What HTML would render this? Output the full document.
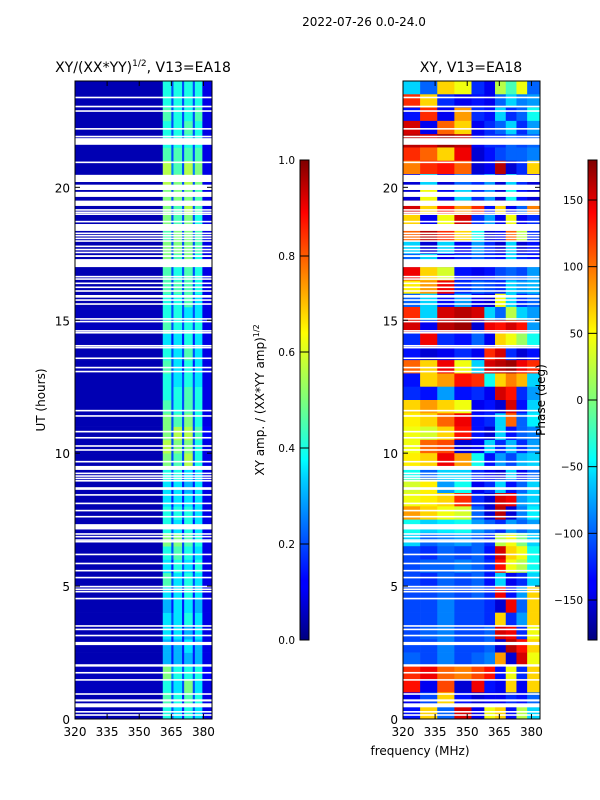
<!DOCTYPE html>
<html><head><meta charset="utf-8">
<style>
html,body{margin:0;padding:0;background:#fff;}
svg{display:block;font-family:"DejaVu Sans","Liberation Sans",sans-serif;}
</style></head>
<body>
<svg id="fig" width="600" height="800" viewBox="0 0 600 800" xmlns="http://www.w3.org/2000/svg">
<defs>
<linearGradient id="jetv" x1="0" y1="1" x2="0" y2="0">
<stop offset="0" stop-color="#00007f"/><stop offset="0.11" stop-color="#0000ff"/>
<stop offset="0.125" stop-color="#0000ff"/><stop offset="0.34" stop-color="#00d4ff"/>
<stop offset="0.375" stop-color="#0ff"/><stop offset="0.5" stop-color="#7dff7a"/>
<stop offset="0.64" stop-color="#ff0"/><stop offset="0.66" stop-color="#ffea00"/>
<stop offset="0.89" stop-color="#ff0000"/><stop offset="1" stop-color="#7f0000"/>
</linearGradient>
<clipPath id="clipL"><rect x="75" y="81" width="137" height="638"/></clipPath>
<clipPath id="clipR"><rect x="403" y="81" width="137" height="638"/></clipPath>
</defs>
<text x="364" y="26" font-size="12" text-anchor="middle">2022-07-26 0.0-24.0</text>
<text x="143" y="72" font-size="14" text-anchor="middle">XY/(XX*YY)<tspan font-size="9" dy="-6">1/2</tspan><tspan dy="6">, V13=EA18</tspan></text>
<text x="471" y="72" font-size="14" text-anchor="middle">XY, V13=EA18</text>
<g id="ampCells" clip-path="url(#clipL)"></g>
<g id="phaseCells" clip-path="url(#clipR)"></g>
<g id="axes"></g>
<text transform="translate(45,400) rotate(-90)" font-size="12" text-anchor="middle">UT (hours)</text>
<text transform="translate(264,400) rotate(-90)" font-size="12" text-anchor="middle">XY amp. / (XX*YY amp)<tspan font-size="8" dy="-5">1/2</tspan></text>
<text transform="translate(545,400) rotate(-90)" font-size="12" text-anchor="middle">Phase (deg)</text>
<text x="420" y="755" font-size="12" text-anchor="middle">frequency (MHz)</text>
</svg>
<script>
// ---- data ----
const ampFreqEdges = [320,361,365,366,370,371,375,376,379.5,384];
// amplitude rows, index = half-hour bin starting at 0 UT
const ampRows = [
[0.05,0.4,0.2,0.35,0.15,0.4,0.2,0.35,0.1],[0.05,0.45,0.2,0.4,0.15,0.45,0.2,0.4,0.1],
[0.06,0.4,0.2,0.35,0.2,0.5,0.2,0.35,0.1],[0.06,0.5,0.25,0.4,0.2,0.4,0.2,0.4,0.12],
[0.05,0.3,0.15,0.3,0.15,0.3,0.15,0.3,0.1],[0.05,0.3,0.15,0.3,0.15,0.35,0.15,0.3,0.1],
[0.05,0.35,0.15,0.35,0.15,0.3,0.15,0.35,0.1],[0.05,0.35,0.2,0.35,0.15,0.4,0.15,0.35,0.1],
[0.05,0.3,0.15,0.35,0.15,0.35,0.15,0.3,0.1],[0.05,0.35,0.15,0.35,0.15,0.4,0.15,0.35,0.1],
[0.05,0.45,0.2,0.35,0.2,0.4,0.2,0.35,0.1],[0.05,0.35,0.15,0.4,0.2,0.35,0.15,0.4,0.1],
[0.05,0.4,0.2,0.45,0.2,0.4,0.2,0.35,0.1],[0.05,0.5,0.2,0.5,0.2,0.45,0.2,0.4,0.1],
[0.05,0.4,0.2,0.35,0.15,0.4,0.15,0.35,0.1],[0.05,0.4,0.2,0.4,0.2,0.4,0.2,0.35,0.1],
[0.05,0.35,0.15,0.35,0.15,0.35,0.15,0.35,0.1],[0.05,0.35,0.15,0.35,0.15,0.3,0.15,0.35,0.1],
[0.05,0.4,0.2,0.4,0.15,0.35,0.15,0.35,0.1],[0.05,0.5,0.2,0.45,0.2,0.55,0.2,0.4,0.1],
[0.05,0.55,0.2,0.5,0.2,0.5,0.2,0.4,0.1],[0.05,0.5,0.2,0.55,0.2,0.55,0.2,0.45,0.12],
[0.05,0.5,0.2,0.45,0.2,0.5,0.2,0.4,0.1],[0.05,0.45,0.2,0.4,0.2,0.45,0.2,0.4,0.1],
[0.05,0.4,0.2,0.4,0.2,0.45,0.2,0.4,0.1],[0.05,0.4,0.2,0.35,0.2,0.4,0.2,0.35,0.1],
[0.05,0.45,0.2,0.35,0.15,0.4,0.15,0.35,0.1],[0.05,0.4,0.2,0.35,0.2,0.45,0.2,0.35,0.1],
[0.05,0.35,0.15,0.35,0.15,0.4,0.15,0.35,0.1],[0.06,0.45,0.2,0.4,0.2,0.4,0.2,0.4,0.1],
[0.06,0.4,0.2,0.4,0.2,0.35,0.2,0.35,0.1],[0.05,0.4,0.2,0.4,0.2,0.45,0.2,0.35,0.1],
[0.05,0.45,0.2,0.45,0.2,0.45,0.2,0.4,0.1],[0.05,0.45,0.2,0.4,0.2,0.45,0.2,0.4,0.1],
[0.05,0.5,0.2,0.45,0.2,0.5,0.2,0.4,0.1],[0.05,0.5,0.2,0.5,0.2,0.5,0.2,0.45,0.1],
[0.05,0.45,0.2,0.5,0.2,0.5,0.2,0.45,0.1],[0.05,0.5,0.2,0.45,0.2,0.5,0.2,0.4,0.1],
[0.05,0.5,0.2,0.45,0.2,0.55,0.2,0.45,0.1],[0.05,0.5,0.2,0.5,0.2,0.5,0.2,0.45,0.1],
[0.05,0.55,0.2,0.5,0.2,0.55,0.2,0.5,0.1],[0.05,0.55,0.25,0.45,0.2,0.55,0.25,0.5,0.1],
[0.05,0.45,0.2,0.45,0.2,0.45,0.2,0.45,0.1],[0.05,0.4,0.2,0.4,0.2,0.4,0.2,0.4,0.1],
[0.05,0.4,0.2,0.4,0.2,0.45,0.2,0.4,0.1],[0.05,0.45,0.2,0.4,0.2,0.4,0.2,0.45,0.1],
[0.05,0.4,0.2,0.4,0.2,0.4,0.2,0.4,0.1],[0.05,0.4,0.2,0.4,0.2,0.4,0.2,0.4,0.1]
];
const phaseFreqEdges = [320,328,336,344,352,358,363,368,373,378,384];
// phase rows in degrees, listed from top (23.5-24 UT) down to 0-0.5 UT
const phaseRowsTopDown = [
[-60,-100,60,40,-120,-140,20,-20,40,-100],[120,60,-120,-140,-130,-140,-100,-60,-90,-80],
[-130,120,-140,80,-120,-130,-60,-120,-100,-40],[150,-140,100,60,-140,-120,-100,-60,-120,-80],
[160,150,170,160,-140,-120,-120,-100,-110,-100],[120,100,60,140,-150,-130,-110,-100,-100,-90],
[90,120,130,100,-150,-140,160,-150,-120,60],[-150,-60,-150,-100,-120,-80,-150,-60,-120,-150],
[-150,40,-140,-60,-120,-80,-150,-40,-130,-150],[150,60,130,80,120,-130,60,-140,-100,90],
[60,-140,40,150,-120,-80,-140,40,-140,-120],[100,160,120,60,-40,-150,-140,100,20,-120],
[-60,-150,-60,-140,-80,-120,-150,-60,-150,-130],[-100,-60,-140,-120,-100,-120,-130,-60,-120,-130],
[140,60,30,-130,-140,-130,-110,-100,-110,-80],[50,80,140,-120,-100,-110,-120,-60,-80,-70],
[-100,-60,-130,-80,-140,-150,40,-60,-120,-100],[120,-60,150,160,150,-60,-100,20,-60,-80],
[150,-140,160,170,-150,140,130,150,130,-80],[-120,140,-120,-130,-100,-140,60,40,10,-40],
[-130,-150,-140,-120,-140,120,150,-120,-150,-130],[100,60,140,40,-60,150,160,170,140,120],
[-130,60,80,130,120,-40,60,90,70,-60],[-120,-130,-80,-130,-120,-140,150,130,-120,-80],
[60,80,60,40,-140,-130,-150,150,-130,-60],[50,60,100,140,-130,-120,-60,100,-100,-50],
[40,30,60,130,-130,-150,-60,-130,-100,-90],[40,100,110,-150,-140,-60,-120,-70,-120,-80],
[50,60,140,80,-40,-130,-80,-110,-70,-60],[-40,-100,-60,-60,-120,-140,-150,-60,-140,-100],
[30,50,-80,-40,-140,-120,-60,-130,-100,-60],[40,50,60,120,-120,-150,150,140,-80,-60],
[80,60,40,30,-100,-150,160,-150,-90,-50],[-40,-60,-50,-40,-80,-100,-120,-80,-100,-80],
[-60,-100,-90,-80,-100,-120,20,40,0,-60],[-110,-120,-100,-110,-100,-130,150,60,40,-40],
[-110,-100,-100,-90,-100,-120,130,40,20,-40],[-110,-120,-100,-110,-100,-130,-60,-140,-120,-60],
[-110,-110,-100,-110,-100,-120,140,-130,-80,60],[-110,-110,-90,-110,-110,-120,-150,140,-100,60],
[-110,-110,-90,-110,-110,-120,60,-120,-80,60],[-110,-100,-90,-110,-110,-100,150,140,-120,40],
[-110,-110,-90,-110,-110,-100,-150,160,130,60],[-100,-110,-90,-110,-100,-90,80,-150,150,40],
[120,140,100,90,110,130,-130,40,-120,60],[130,-140,110,-150,140,-130,-140,60,-140,60],
[-140,-110,60,-130,-150,-140,-140,-120,-130,-100],[-130,60,-100,150,-140,40,60,-130,20,-60]
];
// flagged (blank) time ranges in UT hours [start,end]
const gapRanges = [[21.6,21.85],[20.2,20.47],[19.9,20.1],[19.64,19.83],[19.3,19.5],[18.36,18.62],
[17.38,17.45],[17.52,17.58],[17.63,17.69],[17.75,17.81],[17.0,17.3],[15.85,15.95],[15.58,15.64],
[9.37,9.52],[8.62,8.72],[7.13,7.33],[1.97,2.06],[0.66,0.74],[0.44,0.59]];
const gapLines = [23.38,23.04,22.87,22.2,21.91,20.94,19.15,19.06,18.99,18.71,18.27,18.18,18.08,17.98,
16.64,16.55,16.39,16.24,16.1,15.76,15.05,14.95,14.6,14.53,14.04,13.97,13.57,13.22,13.07,
11.6,11.4,10.81,10.58,10.27,10.12,9.68,9.24,9.14,9.05,8.96,8.43,8.11,7.84,7.61,6.96,6.86,6.73,6.67,
6.19,5.85,5.58,5.32,4.98,4.88,4.79,4.53,3.5,3.37,3.14,2.87,2.81,1.74,1.47,0.94,0.27,0.15];
const xTicks = [320,335,350,365,380];
const yTicks = [0,5,10,15,20];
const ampTicks = [0.0,0.2,0.4,0.6,0.8,1.0];
const phaseTicks = [-150,-100,-50,0,50,100,150];

// ---- scales ----
const NS = 'http://www.w3.org/2000/svg';
const Y0 = 719, Y1 = 81, HMAX = 24, BIN = 0.5;
const yScale = h => Y0 - (h / HMAX) * (Y0 - Y1);
const xScaleL = f => 75 + (f - 320) / 64 * 137;
const xScaleR = f => 403 + (f - 320) / 64 * 137;
function jet(v){
  v = Math.max(0, Math.min(1, v));
  const c = t => Math.round(255 * Math.max(0, Math.min(1, t)));
  return `rgb(${c(1.5-Math.abs(4*v-3))},${c(1.5-Math.abs(4*v-2))},${c(1.5-Math.abs(4*v-1))})`;
}
function mk(tag, attrs, parent){
  const e = document.createElementNS(NS, tag);
  for (const k in attrs) e.setAttribute(k, attrs[k]);
  parent.appendChild(e); return e;
}
const gA = document.getElementById('ampCells');
const gP = document.getElementById('phaseCells');
const axes = document.getElementById('axes');

ampRows.forEach((row, i) => {
  const h0 = i * BIN, h1 = h0 + BIN;
  row.forEach((v, j) => {
    const x0 = xScaleL(ampFreqEdges[j]), x1 = xScaleL(ampFreqEdges[j+1]);
    const r = mk('rect', {x:x0, y:yScale(h1), width:x1-x0+0.3, height:yScale(h0)-yScale(h1)+0.3, fill:jet(v)}, gA);
    
    
  });
});
phaseRowsTopDown.forEach((row, k) => {
  const h1 = HMAX - k * BIN, h0 = h1 - BIN;
  row.forEach((v, j) => {
    const x0 = xScaleR(phaseFreqEdges[j]), x1 = xScaleR(phaseFreqEdges[j+1]);
    const r = mk('rect', {x:x0, y:yScale(h1), width:x1-x0+0.3, height:yScale(h0)-yScale(h1)+0.3, fill:jet((v+180)/360)}, gP);
    
    
  });
});
[[gA,75],[gP,403]].forEach(([g,x]) => {
  gapRanges.forEach(([a,b]) => {
    const r = mk('rect', {x:x, y:yScale(b), width:137, height:yScale(a)-yScale(b), fill:'#fff'}, g);
    
    
  });
  gapLines.forEach(h => {
    const r = mk('rect', {x:x, y:yScale(h)-0.8, width:137, height:1.6, fill:'#fff'}, g);
    
    
  });
});

[[75,xScaleL,'left'],[403,xScaleR,'right']].forEach(([x, xs, side]) => {
  const fr = mk('rect', {x:x, y:Y1, width:137, height:Y0-Y1, fill:'none', stroke:'#000', 'stroke-width':1}, axes);
  
  
  xTicks.forEach(t => {
    const px = xs(t);
    mk('line', {x1:px, x2:px, y1:Y0, y2:Y0-5, stroke:'#000'}, axes);
    mk('line', {x1:px, x2:px, y1:Y1, y2:Y1+5, stroke:'#000'}, axes);
    const tx = mk('text', {x:px, y:Y0+17, 'font-size':12, 'text-anchor':'middle'}, axes);
    tx.textContent = t;
    
    
  });
  yTicks.forEach(t => {
    const py = yScale(t);
    mk('line', {x1:x, x2:x+5, y1:py, y2:py, stroke:'#000'}, axes);
    mk('line', {x1:x+137, x2:x+132, y1:py, y2:py, stroke:'#000'}, axes);
    const tx = mk('text', {x:x-5, y:py+5, 'font-size':12, 'text-anchor':'end'}, axes);
    tx.textContent = t;
    
    
  });
});
function colorbar(x, ticks, lo, hi, fmt, name){
  const cb = mk('rect', {x:x, y:160, width:9, height:480, fill:'url(#jetv)', stroke:'#000', 'stroke-width':1}, axes);
  
  
  ticks.forEach(t => {
    const py = 640 - (t - lo) / (hi - lo) * 480;
    mk('line', {x1:x, x2:x+9, y1:py, y2:py, stroke:'#000', 'stroke-width':1}, axes);
    const tx = mk('text', {x:x-5, y:py+4, 'font-size':10.5, 'text-anchor':'end'}, axes);
    tx.textContent = fmt(t);
    
    
  });
}
colorbar(300, ampTicks, 0, 1, t => t.toFixed(1), 'amp-colorbar');
colorbar(588, phaseTicks, -180, 180, t => t < 0 ? '\u2212' + (-t) : String(t), 'phase-colorbar');
</script>
</body></html>
